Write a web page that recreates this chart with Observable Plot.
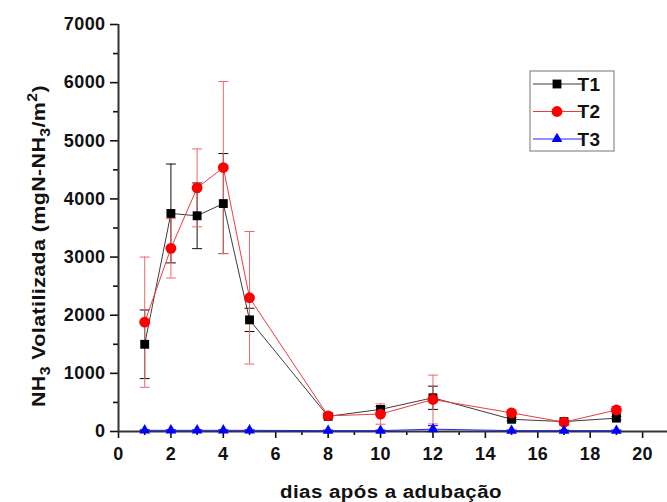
<!DOCTYPE html>
<html><head><meta charset="utf-8">
<script src="https://cdn.jsdelivr.net/npm/d3@7"></script>
<script src="https://cdn.jsdelivr.net/npm/@observablehq/plot@0.6"></script>
<style>body{margin:0;background:#fff} #chart{width:667px;height:502px}</style>
</head><body><div id="chart"></div>
<script>
// ---- data ----
const days  = [1, 2, 3, 4, 5, 8, 10, 12, 15, 17, 19];
const t1    = [1500, 3750, 3710, 3920, 1920, 260, 380, 580, 210, 170, 230];
const t1err = [590, 850, 565, 860, 200, 30, 50, 200, 30, 20, 30];
const t2    = [1880, 3150, 4190, 4540, 2300, 270, 300, 550, 320, 160, 370];
const t2err = [1120, 510, 670, 1480, 1140, 40, 175, 420, 50, 30, 60];
const t3    = [20, 20, 20, 20, 20, 15, 15, 40, 15, 15, 15];
const t3err = [10, 10, 10, 10, 10, 10, 10, 60, 10, 10, 10];
const seriesNames = ["T1", "T2", "T3"];
const yTicks = [0, 1000, 2000, 3000, 4000, 5000, 6000, 7000];
const yMinor = [500, 1500, 2500, 3500, 4500, 5500, 6500];
const xTicks = [0, 2, 4, 6, 8, 10, 12, 14, 16, 18, 20];
const xMinor = [1, 3, 5, 7, 9, 11, 13, 15, 17, 19];

const styles = {
  T1: {fill: "#000000", line: "#3c3c3c", err: "#111111", symbol: "square", r: 5, d3s: d3.symbolSquare},
  T2: {fill: "#ff0000", line: "#f03a3a", err: "#e86a6a", symbol: "circle", r: 5.4, d3s: d3.symbolCircle},
  T3: {fill: "#0000ff", line: "#2020ff", err: "#0000ff", symbol: "triangle", r: 4, d3s: d3.symbolTriangle}
};
const valuesBy = {T1: [t1, t1err], T2: [t2, t2err], T3: [t3, t3err]};
const rows = {};
for (const s of seriesNames) {
  rows[s] = days.map((d, i) => ({series: s, day: d, value: valuesBy[s][0][i], err: valuesBy[s][1][i]}));
}
const cap = {draw(ctx) { ctx.moveTo(-5, 0); ctx.lineTo(5, 0); }};

const errMarks = s => [
  Plot.ruleX(rows[s], {x: "day", y1: d => Math.max(0, d.value - d.err), y2: d => d.value + d.err, stroke: styles[s].err, strokeWidth: 1}),
  Plot.dot(rows[s], {x: "day", y: d => d.value + d.err, symbol: cap, r: 5, stroke: styles[s].err, strokeWidth: 1}),
  Plot.dot(rows[s], {x: "day", y: d => Math.max(0, d.value - d.err), symbol: cap, r: 5, stroke: styles[s].err, strokeWidth: 1})
];
const lineMark = s => Plot.line(rows[s], {x: "day", y: "value", stroke: styles[s].line, strokeWidth: 1});
const dotMark = s => Plot.dot(rows[s], {x: "day", y: "value", symbol: styles[s].symbol, r: styles[s].r, fill: styles[s].fill, stroke: "none"});

const plot = Plot.plot({
  width: 667, height: 502,
  marginTop: 24, marginBottom: 71, marginLeft: 118, marginRight: 0,
  x: {domain: [0, 20.95]},
  y: {domain: [0, 7000]},
  style: {fontFamily: "'Liberation Sans', Arial, sans-serif", fontSize: "18px", fontWeight: "bold", letterSpacing: "0.4px", color: "#111", background: "#fff", overflow: "visible"},
  marks: [
    Plot.axisY({ticks: yTicks, tickSize: 8, tickPadding: 5, fontWeight: "bold", strokeWidth: 1.6, label: null, tickFormat: d => String(d)}),
    Plot.axisY({ticks: yMinor, tickSize: 5, strokeWidth: 1.6, label: null, tickFormat: () => ""}),
    Plot.axisX({ticks: xTicks, tickSize: 7, tickPadding: 9, fontWeight: "bold", strokeWidth: 1.6, label: null, tickFormat: d => String(d)}),
    Plot.axisX({ticks: xMinor, tickSize: 4, strokeWidth: 1.6, label: null, tickFormat: () => ""}),
    ...errMarks("T1"), ...errMarks("T2"), ...errMarks("T3"),
    Plot.ruleX([0], {stroke: "#333", strokeWidth: 2}),
    Plot.ruleY([0], {stroke: "#333", strokeWidth: 2}),
    lineMark("T1"), lineMark("T2"), lineMark("T3"),
    dotMark("T1"), dotMark("T2"), dotMark("T3")
  ]
});
document.getElementById("chart").appendChild(plot);

const svg = d3.select(plot);
// x label
svg.append("text")
  .attr("x", 391).attr("y", 498)
  .attr("text-anchor", "middle")
  .style("font-size", "18px").attr("font-weight", "bold").attr("fill", "#111")
  .attr("textLength", 222).attr("lengthAdjust", "spacingAndGlyphs")
  .text("dias após a adubação");

// y label with sub/superscripts
const yl = svg.append("text")
  .attr("transform", "translate(45,246) rotate(-90)")
  .attr("text-anchor", "middle")
  .style("font-size", "19px").attr("font-weight", "bold").attr("fill", "#111")
  .attr("textLength", 322).attr("lengthAdjust", "spacingAndGlyphs");
yl.append("tspan").text("NH");
yl.append("tspan").style("font-size", "14px").attr("dy", 5).text("3");
yl.append("tspan").attr("dy", -5).text(" Volatilizada (mgN-NH");
yl.append("tspan").style("font-size", "14px").attr("dy", 5).text("3");
yl.append("tspan").attr("dy", -5).text("/m");
yl.append("tspan").style("font-size", "14px").attr("dy", -8).text("2");
yl.append("tspan").attr("dy", 8).text(")");

// legend
const lg = svg.append("g");
lg.append("rect").attr("x", 530).attr("y", 71).attr("width", 84).attr("height", 80)
  .attr("fill", "#fff").attr("stroke", "#8a8a8a").attr("stroke-width", 1.2);
seriesNames.forEach((s, i) => {
  const y = 84 + i * 27.5;
  lg.append("line").attr("x1", 533).attr("x2", 582).attr("y1", y).attr("y2", y)
    .attr("stroke", styles[s].line).attr("stroke-width", 1);
  lg.append("path").attr("transform", `translate(557,${y})`)
    .attr("d", d3.symbol().type(styles[s].d3s).size(Math.PI * styles[s].r * styles[s].r)())
    .attr("fill", styles[s].fill);
  lg.append("text").attr("x", 589).attr("y", y + 6.5)
    .style("font-size", "19px").attr("font-weight", "bold").attr("fill", "#111").text(s);
});
</script>
</body></html>
